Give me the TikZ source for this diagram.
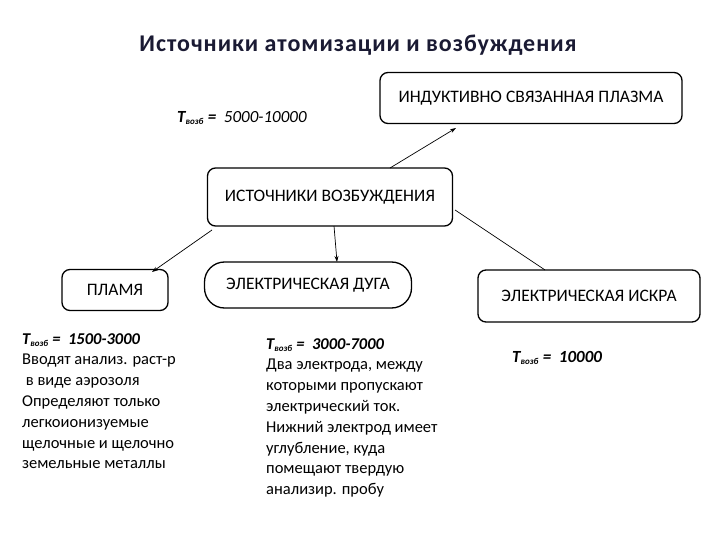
\documentclass[tikz,border=0pt]{standalone}
\usepackage{fontspec}
\setmainfont{Carlito}
\newfontfamily\titlefont[LetterSpace=4]{Carlito}
\usetikzlibrary{arrows.meta}
\definecolor{titlecol}{HTML}{1A1A33}
\newcommand{\tvz}{\textbf{\textit{T\textsubscript{\fontsize{9}{9}\selectfont возб} = \ }}}
\begin{document}
\begin{tikzpicture}[x=1pt,y=-1pt,
 box/.style={draw,line width=1.3pt,rounded corners=8pt,inner sep=0pt,font=\fontsize{17.5}{20}\selectfont},
 conn/.style={line width=0.7pt,-{Stealth[length=6pt,width=4pt]}},
 txt/.style={font=\fontsize{16.5}{20.8}\selectfont,align=left,anchor=north west,inner sep=0pt},
 tv/.style={font=\fontsize{17}{20}\selectfont\itshape,anchor=west,inner sep=0pt}]
\useasboundingbox (0,0) rectangle (720,540);
\node[font=\fontsize{24}{28}\titlefont\bfseries,text=titlecol] (title) at (358,45) {Источники атомизации и возбуждения};
\node[tv] (t1) at (177,118) {\tvz 5000-10000};
\node[box,minimum width=302pt,minimum height=51pt] (icp) at (531,98) {ИНДУКТИВНО СВЯЗАННАЯ ПЛАЗМА};
\node[box,minimum width=245pt,minimum height=58pt] (src) at (330,197) {ИСТОЧНИКИ ВОЗБУЖДЕНИЯ};
\node[box,minimum width=106pt,minimum height=41pt] (flame) at (115,290) {ПЛАМЯ};
\node[box,rounded corners=20pt,minimum width=207pt,minimum height=46pt] (arc) at (308,285) {ЭЛЕКТРИЧЕСКАЯ ДУГА};
\node[box,minimum width=222pt,minimum height=52pt] (spark) at (589,296) {ЭЛЕКТРИЧЕСКАЯ ИСКРА};
\coordinate (c1) at (390,168);
\coordinate (c2) at (456,128);
\draw[conn] (c1) -- (c2);
\draw[conn] (212,230) -- (152,272);
\draw[conn] (334,226) -- (337,262);
\draw[line width=0.7pt] (455,210) -- (545,270);
\node[txt] (l1) at (22,333) {\tvz\textbf{\textit{1500-3000}}\\Вводят анализ. раст-р\\\ в виде аэрозоля\\Определяют только\\легкоионизуемые\\щелочные и щелочно\\земельные металлы};
\node[txt] (l2) at (266,338) {\tvz\textbf{\textit{3000-7000}}\\Два электрода, между\\которыми пропускают\\электрический ток.\\Нижний электрод имеет\\углубление, куда\\помещают твердую\\анализир. пробу};
\node[tv] (l3) at (512,358) {\tvz\textbf{10000}};
\end{tikzpicture}
\end{document}
